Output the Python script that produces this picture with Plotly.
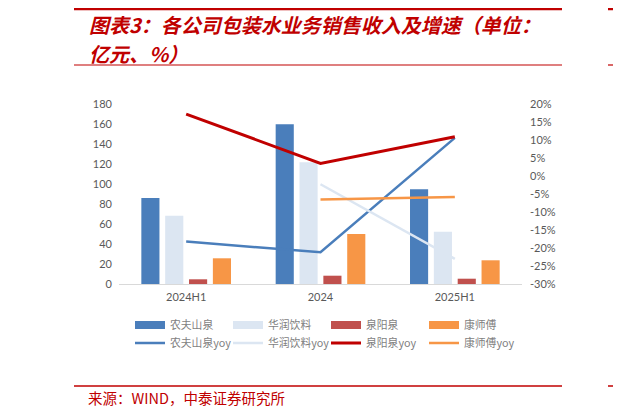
import plotly.graph_objects as go

W, H = 621, 417
# the page draws the figure 8px in from the top-left corner
OFF = 8
L, T = 119 - OFF, 104 - OFF
PW, PH = 403, 180
R, B = W - L - PW, H - T - PH

# data
categories = ['2024H1', '2024', '2025H1']
nongfu = [85.9, 159.7, 94.7]
huarun = [68.3, 121.7, 52.3]
quanyang = [4.7, 8.3, 5.3]
kangshifu = [25.7, 50.0, 23.7]

nongfu_yoy = [-18.2, -21.2, 10.6]
huarun_yoy = [None, -2.3, -23.0]
quanyang_yoy = [17.2, 3.5, 10.9]
kangshifu_yoy = [None, -6.5, -5.8]

left_ticks = [0, 20, 40, 60, 80, 100, 120, 140, 160, 180]
right_ticks = [-30, -25, -20, -15, -10, -5, 0, 5, 10, 15, 20]
right_labels = ['-30%', '-25%', '-20%', '-15%', '-10%', '-5%', '0%', '5%', '10%', '15%', '20%']

RED = '#C00000'
CJK = 'Noto Sans CJK SC'
NUM = 'Lato'


# positions below are given as they appear on the page
def px_x(p):
    return (p - OFF - L) / PW


def px_y(p):
    return 1 - (p - OFF - T) / PH


fig = go.Figure()

bars = [('农夫山泉', nongfu, '#4A7EBB'),
        ('华润饮料', huarun, '#DCE6F2'),
        ('泉阳泉', quanyang, '#C0504D'),
        ('康师傅', kangshifu, '#F79646')]
lines = [('农夫山泉yoy', nongfu_yoy, '#4A7EBB', 2.5),
         ('华润饮料yoy', huarun_yoy, '#DCE6F2', 2.5),
         ('泉阳泉yoy', quanyang_yoy, '#C00000', 3),
         ('康师傅yoy', kangshifu_yoy, '#F79646', 2.5)]

for name, vals, col in bars:
    fig.add_trace(go.Bar(x=categories, y=vals, marker_color=col, marker_line_width=0,
                         name=name, showlegend=False))
    # wide swatch for the legend
    fig.add_trace(go.Scatter(x=categories, y=[None] * 3, mode='lines', name=name,
                             line=dict(color=col, width=8), legend='legend'))

for name, vals, col, w in lines:
    fig.add_trace(go.Scatter(x=categories, y=vals, yaxis='y2', mode='lines', name=name,
                             line=dict(color=col, width=w), connectgaps=False,
                             legend='legend2'))

legend_common = dict(orientation='h', xref='container', yref='container',
                     x=122 / W, xanchor='left', yanchor='middle',
                     entrywidth=53, entrywidthmode='pixels',
                     font=dict(family=CJK, size=10.8, color='#7F7F7F'),
                     bgcolor='rgba(0,0,0,0)')

fig.update_layout(
    width=W, height=H,
    margin=dict(l=L, r=R, t=T, b=B, autoexpand=False),
    paper_bgcolor='white', plot_bgcolor='white',
    barmode='group', bargap=0.29, bargroupgap=0.24,
    font=dict(family=CJK, size=11, color='#595959'),
    xaxis=dict(type='category', showgrid=False, showline=True, linecolor='#D9D9D9',
               linewidth=1, ticks='', automargin=False,
               tickfont=dict(family=NUM, size=11, color='#595959'),
               ticklabelstandoff=3),
    yaxis=dict(range=[0, 180], tickvals=left_ticks, showgrid=False, zeroline=False,
               showline=False, ticks='', automargin=False,
               tickfont=dict(family=NUM, size=11, color='#595959'),
               ticklabelstandoff=6),
    yaxis2=dict(overlaying='y', side='right', range=[-30, 20], tickvals=right_ticks,
                ticktext=right_labels, showgrid=False, zeroline=False, showline=False,
                ticks='', automargin=False,
                tickfont=dict(family=NUM, size=11, color='#595959'),
                ticklabelstandoff=7),
    legend=dict(legend_common, y=1 - (325 - OFF) / H),
    legend2=dict(legend_common, y=1 - (343 - OFF) / H),
)

# page decoration: red rules
rules = [(9, 2.5), (65, 1.2), (386, 1.5)]
for yy, lw in rules:
    for x0, x1 in [(74, 562), (608, 630)]:
        fig.add_shape(type='line', xref='paper', yref='paper',
                      x0=px_x(x0), x1=px_x(x1), y0=px_y(yy), y1=px_y(yy),
                      line=dict(color=RED, width=lw))

title_font = dict(family=CJK, size=20, color=RED, weight='bold', style='italic')
fig.add_annotation(xref='paper', yref='paper', x=px_x(87), y=px_y(24),
                   xanchor='left', yanchor='middle', showarrow=False,
                   text='图表3：各公司包装水业务销售收入及增速（单位：', font=title_font)
fig.add_annotation(xref='paper', yref='paper', x=px_x(87), y=px_y(53),
                   xanchor='left', yanchor='middle', showarrow=False,
                   text='亿元、%）', font=title_font)
fig.add_annotation(xref='paper', yref='paper', x=px_x(86), y=px_y(397),
                   xanchor='left', yanchor='middle', showarrow=False,
                   text='来源：WIND，中泰证券研究所',
                   font=dict(family=CJK, size=14.5, color=RED))

fig.write_html('out.html')
